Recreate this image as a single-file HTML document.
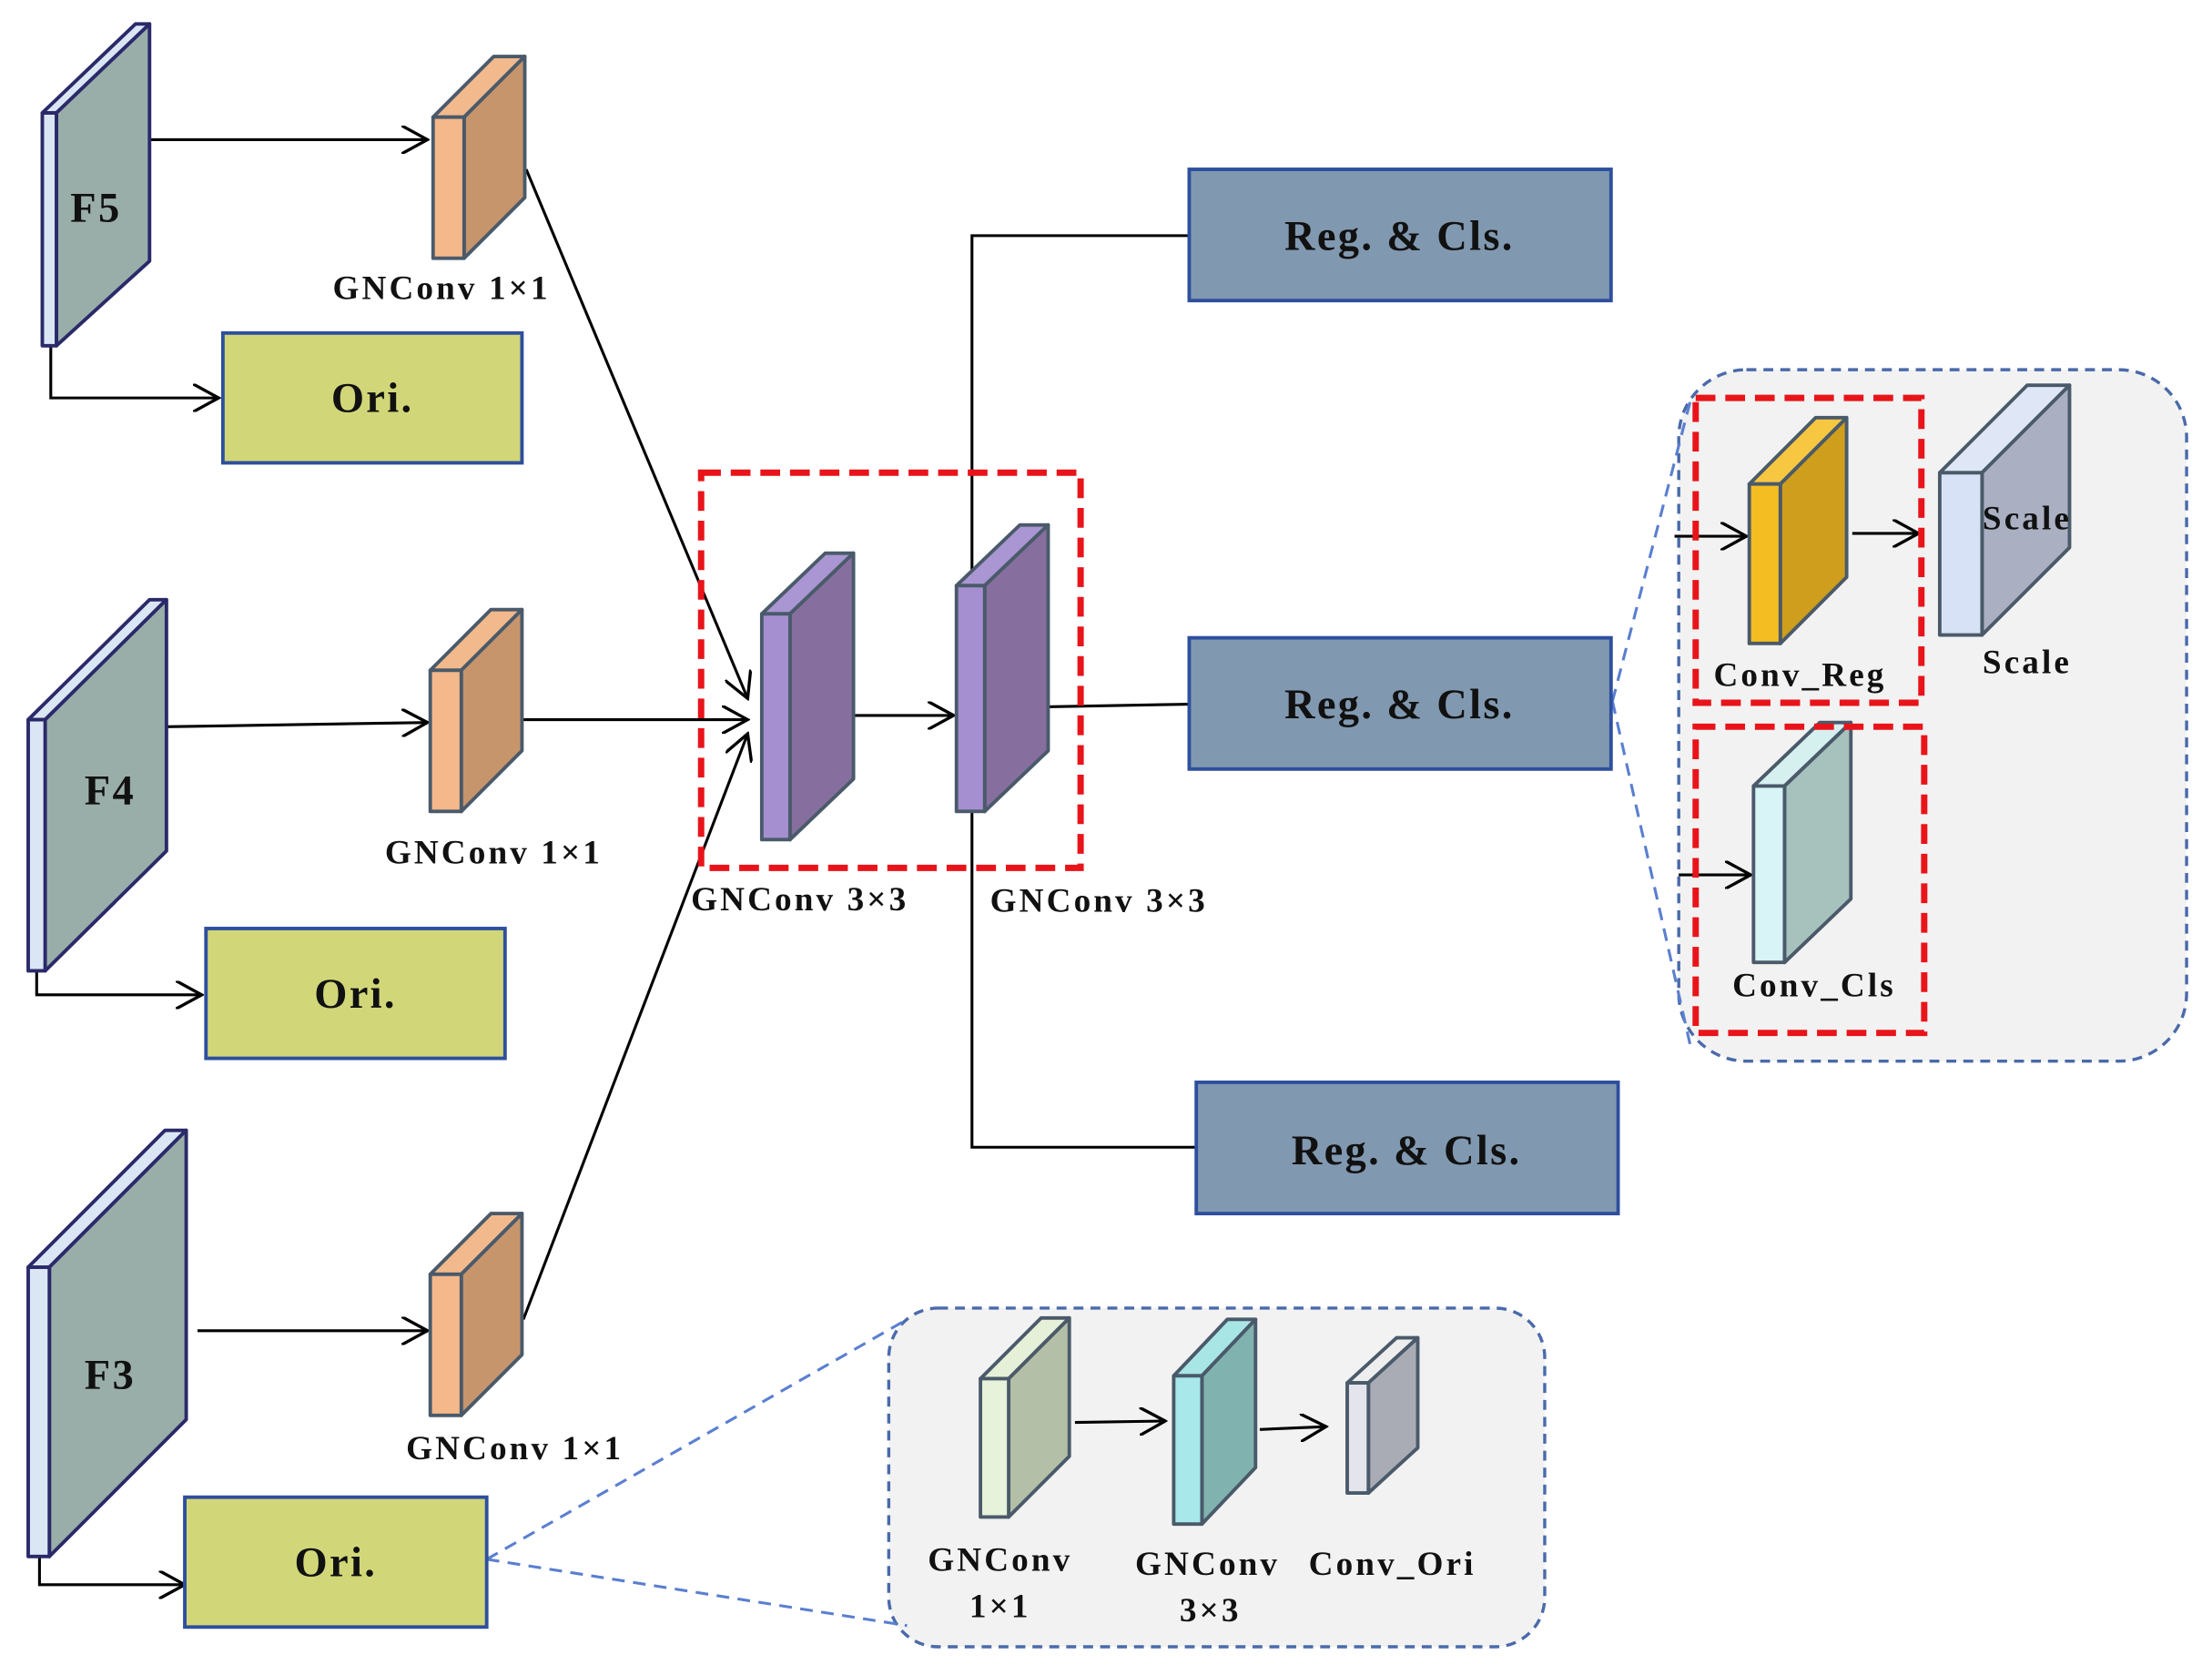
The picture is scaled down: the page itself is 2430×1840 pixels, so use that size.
<!DOCTYPE html>
<html><head><meta charset="utf-8"><style>
html,body{margin:0;padding:0;background:#fff;}
svg{display:block;}
text{font-family:"Liberation Serif",serif;font-weight:bold;fill:#111;}
</style></head><body>
<svg width="2430" height="1840" viewBox="0 0 1568 1187" preserveAspectRatio="none" xmlns="http://www.w3.org/2000/svg">
<defs>
<marker id="b" viewBox="0 0 12 12" refX="11" refY="6" markerWidth="20" markerHeight="20" markerUnits="userSpaceOnUse" orient="auto">
<path d="M0,0 L11,6 L0,12" fill="none" stroke="#000" stroke-width="1.3"/></marker>
</defs>
<rect width="1568" height="1187" fill="#fff"/>

<rect x="1190" y="262" width="360" height="490" rx="48" fill="#f2f2f2" stroke="#4a6aaa" stroke-width="2.2" stroke-dasharray="7,5"/>
<rect x="630" y="927" width="465" height="240" rx="35" fill="#f2f2f2" stroke="#4a6aaa" stroke-width="2.2" stroke-dasharray="7,5"/>
<g stroke="#5a7fd0" stroke-width="2" stroke-dasharray="9,6" fill="none">
<line x1="1143" y1="497" x2="1198" y2="285"/><line x1="1143" y1="497" x2="1198" y2="740"/>
<line x1="345" y1="1105" x2="643" y2="935"/><line x1="345" y1="1105" x2="643" y2="1152"/>
</g>

<g stroke="#000" stroke-width="2" fill="none">
<line x1="106" y1="99" x2="303" y2="99" marker-end="url(#b)"/>
<polyline points="36,245 36,282 155,282" marker-end="url(#b)"/>
<line x1="118" y1="515" x2="303" y2="512" marker-end="url(#b)"/>
<polyline points="26,688 26,705 143,705" marker-end="url(#b)"/>
<line x1="140" y1="943" x2="303" y2="943" marker-end="url(#b)"/>
<polyline points="28,1103 28,1123 131,1123" marker-end="url(#b)"/>
<line x1="373" y1="120" x2="530" y2="495" marker-end="url(#b)"/>
<line x1="371" y1="510" x2="530" y2="510" marker-end="url(#b)"/>
<line x1="371" y1="935" x2="530" y2="520" marker-end="url(#b)"/>
<line x1="605" y1="507" x2="676" y2="507" marker-end="url(#b)"/>
<polyline points="842,167 689,167 689,813 848,813"/>
<line x1="736" y1="501" x2="843" y2="499"/>
<line x1="1187" y1="380" x2="1238" y2="380" marker-end="url(#b)"/>
<line x1="1313" y1="378" x2="1360" y2="378" marker-end="url(#b)"/>
<line x1="1190" y1="620" x2="1241" y2="620" marker-end="url(#b)"/>
<line x1="762" y1="1008" x2="826" y2="1007" marker-end="url(#b)"/>
<line x1="893" y1="1013" x2="940" y2="1011" marker-end="url(#b)"/>
</g>

<g stroke="#2a2a6a" stroke-width="2.5" stroke-linejoin="round">
<polygon points="30,80 96,17 106,17 40,80" fill="#dbe6f4"/><polygon points="40,80 106,17 106,185 40,245" fill="#9aaea9"/><rect x="30" y="80" width="10" height="165" fill="#dbe6f4"/>
<polygon points="20,510 106,425 118,425 32,510" fill="#dbe6f4"/><polygon points="32,510 118,425 118,603 32,688" fill="#9aaea9"/><rect x="20" y="510" width="12" height="178" fill="#dbe6f4"/>
<polygon points="20,898 117,801 132,801 35,898" fill="#dbe6f4"/><polygon points="35,898 132,801 132,1006 35,1103" fill="#9aaea9"/><rect x="20" y="898" width="15" height="205" fill="#dbe6f4"/>
</g>
<g stroke="#4a5a6a" stroke-width="2.5" stroke-linejoin="round">
<polygon points="307,83 350,40 372,40 329,83" fill="#f2b98c"/><polygon points="329,83 372,40 372,140 329,183" fill="#c6956c"/><rect x="307" y="83" width="22" height="100" fill="#f4b88a"/>
<polygon points="305,475 348,432 370,432 327,475" fill="#f2b98c"/><polygon points="327,475 370,432 370,532 327,575" fill="#c6956c"/><rect x="305" y="475" width="22" height="100" fill="#f4b88a"/>
<polygon points="305,903 348,860 370,860 327,903" fill="#f2b98c"/><polygon points="327,903 370,860 370,960 327,1003" fill="#c6956c"/><rect x="305" y="903" width="22" height="100" fill="#f4b88a"/>
<polygon points="540,435 585,392 605,392 560,435" fill="#a996d2"/><polygon points="560,435 605,392 605,552 560,595" fill="#866f9e"/><rect x="540" y="435" width="20" height="160" fill="#a68fd0"/>
<polygon points="678,415 723,372 743,372 698,415" fill="#a996d2"/><polygon points="698,415 743,372 743,532 698,575" fill="#866f9e"/><rect x="678" y="415" width="20" height="160" fill="#a68fd0"/>
<polygon points="1240,343 1287,296 1309,296 1262,343" fill="#f7c742"/><polygon points="1262,343 1309,296 1309,409 1262,456" fill="#cf9e1c"/><rect x="1240" y="343" width="22" height="113" fill="#f4bd22"/>
<polygon points="1375,335 1437,273 1467,273 1405,335" fill="#dfe6f6"/><polygon points="1405,335 1467,273 1467,388 1405,450" fill="#aab0c2"/><rect x="1375" y="335" width="30" height="115" fill="#d8e2f6"/>
<polygon points="1243,557 1290,512 1312,512 1265,557" fill="#d6f0f0"/><polygon points="1265,557 1312,512 1312,637 1265,682" fill="#a7c1bd"/><rect x="1243" y="557" width="22" height="125" fill="#d8f4f6"/>
<polygon points="695,977 738,934 758,934 715,977" fill="#e6efd8"/><polygon points="715,977 758,934 758,1032 715,1075" fill="#b3bfa6"/><rect x="695" y="977" width="20" height="98" fill="#e6f2d9"/>
<polygon points="832,975 870,935 890,935 852,975" fill="#a8e6e6"/><polygon points="852,975 890,935 890,1040 852,1080" fill="#80b3b0"/><rect x="832" y="975" width="20" height="105" fill="#a8e8ea"/>
<polygon points="955,980 990,948 1005,948 970,980" fill="#eeeeee"/><polygon points="970,980 1005,948 1005,1026 970,1058" fill="#a9acb4"/><rect x="955" y="980" width="15" height="78" fill="#e4e4ec"/>
</g>

<g fill="none" stroke="#e8141a" stroke-width="4.5" stroke-dasharray="14,7">
<rect x="497" y="335" width="269" height="280"/>
<rect x="1202" y="282" width="160" height="216"/>
<rect x="1202" y="515" width="162" height="217"/>
</g>

<g stroke="#2e4f9e" stroke-width="2.5">
<rect x="158" y="236" width="212" height="92" fill="#d1d778"/>
<rect x="146" y="658" width="212" height="92" fill="#d1d778"/>
<rect x="131" y="1061" width="214" height="92" fill="#d1d778"/>
<rect x="843" y="120" width="299" height="93" fill="#8199b0"/>
<rect x="843" y="452" width="299" height="93" fill="#8199b0"/>
<rect x="848" y="767" width="299" height="93" fill="#8199b0"/>
</g>

<g font-size="30" text-anchor="middle" letter-spacing="1.5">
<text x="68" y="157">F5</text><text x="78" y="570">F4</text><text x="78" y="984">F3</text>
<text x="264" y="292">Ori.</text><text x="252" y="714">Ori.</text><text x="238" y="1117">Ori.</text>
<text x="992" y="177">Reg. &amp; Cls.</text><text x="992" y="509">Reg. &amp; Cls.</text><text x="997" y="825">Reg. &amp; Cls.</text>
</g>
<g font-size="24" text-anchor="middle" letter-spacing="2">
<text x="313" y="212">GNConv 1×1</text>
<text x="350" y="612">GNConv 1×1</text>
<text x="365" y="1034">GNConv 1×1</text>
<text x="567" y="645">GNConv 3×3</text>
<text x="779" y="646">GNConv 3×3</text>
<text x="1276" y="486">Conv_Reg</text>
<text x="1437" y="375">Scale</text>
<text x="1437" y="477">Scale</text>
<text x="1286" y="706">Conv_Cls</text>
<text x="709" y="1113">GNConv</text><text x="709" y="1146">1×1</text>
<text x="856" y="1116">GNConv</text><text x="858" y="1149">3×3</text>
<text x="987" y="1116">Conv_Ori</text>
</g>
</svg>
</body></html>
